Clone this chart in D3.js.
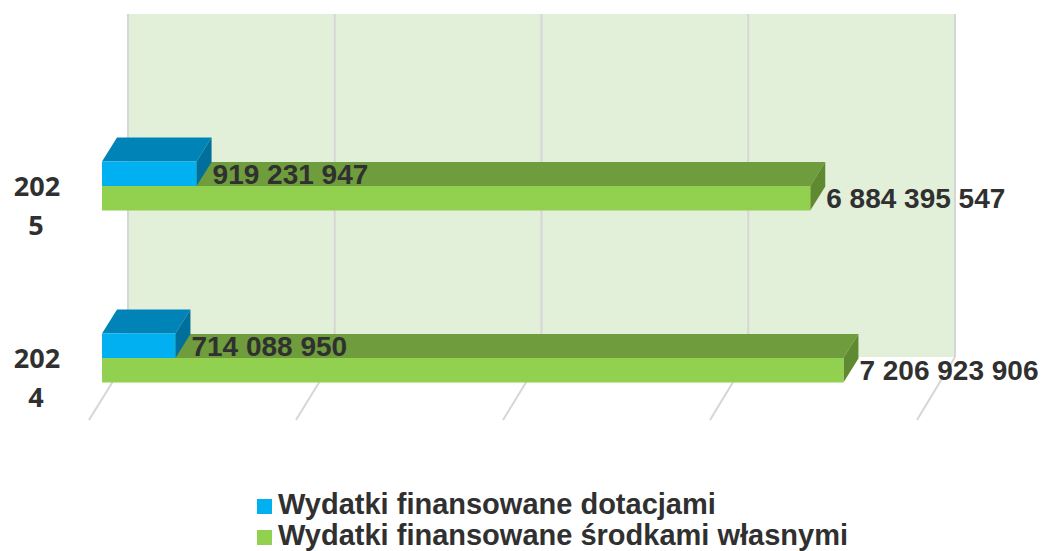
<!DOCTYPE html>
<html>
<head>
<meta charset="UTF-8">
<title>Wydatki 2024-2025</title>
<script src="https://d3js.org/d3.v7.min.js"></script>
<style>
  body { margin: 0; background: #fff; }
  svg { display: block; }
  text { fill: #303030; font-weight: bold; }
</style>
</head>
<body>
<svg></svg>
<script>
// data
const categories = ["2025", "2024"];
const seriesKeys = ["dotacje", "wlasne"];
const seriesNames = ["Wydatki finansowane dotacjami", "Wydatki finansowane środkami własnymi"];
const dotacje = [919231947, 714088950];
const wlasne = [6884395547, 7206923906];
const ticks = [0, 2e9, 4e9, 6e9, 8e9];

const W = 1041, H = 551;
const svg = d3.select("svg").attr("width", W).attr("height", H);

const colors = {
  dotacje: { front: "#00b0f0", top: "#0084b8", side: "#006f9c" },
  wlasne: { front: "#92d050", top: "#6f9c3c", side: "#5f8a32" }
};

// depth of the bars (3d offset)
const dx = 15, dy = -24;

// scales: front plane of bars, back wall, floor front edge
const x = d3.scaleLinear().domain([0, 8e9]).range([102, 925]);
const xWall = d3.scaleLinear().domain([0, 8e9]).range([128, 955]);
const xFloor = d3.scaleLinear().domain([0, 8e9]).range([89, 917]);
const wallTop = 14, wallBottom = 357, floorFront = 420;

const y = d3.scaleBand().domain(categories).range([100, 444]);
const ySub = d3.scaleBand().domain(seriesKeys).range([-24.5, 24.5]);

const fmt = d3.formatLocale({ thousands: " ", grouping: [3], decimal: ",", currency: ["", " zł"] }).format(",d");

// back wall
svg.append("rect")
  .attr("x", xWall(0)).attr("y", wallTop)
  .attr("width", xWall(8e9) - xWall(0)).attr("height", wallBottom - wallTop)
  .attr("fill", "#e2efd9");

// gridlines on wall
svg.append("g").selectAll("line").data(ticks).join("line")
  .attr("x1", d => xWall(d)).attr("x2", d => xWall(d))
  .attr("y1", wallTop).attr("y2", wallBottom)
  .attr("stroke", "#d6d6d6").attr("stroke-width", 2);

// floor lines
svg.append("g").selectAll("line").data(ticks).join("line")
  .attr("x1", d => xWall(d)).attr("y1", wallBottom)
  .attr("x2", d => xFloor(d)).attr("y2", floorFront)
  .attr("stroke", "#d6d6d6").attr("stroke-width", 2);

// rows: build table from the arrays
const rows = categories.map((c, i) => ({ cat: c, dotacje: dotacje[i], wlasne: wlasne[i] }));

function faces(x0, x1, y0, y1) {
  const front = [[x0, y0], [x1, y0], [x1, y1], [x0, y1]];
  const top = [[x0, y0], [x1, y0], [x1 + dx, y0 + dy], [x0 + dx, y0 + dy]];
  const side = [[x1, y0], [x1 + dx, y0 + dy], [x1 + dx, y1 + dy], [x1, y1]];
  return { front, top, side };
}
const poly = pts => "M" + pts.map(p => p.join(",")).join("L") + "Z";

const bars = svg.append("g");
// draw green first, blue on top of it
rows.forEach(r => {
  const cy = y(r.cat) + y.bandwidth() / 2;
  ["wlasne", "dotacje"].forEach(k => {
    const y0 = cy + ySub(k), y1 = y0 + ySub.bandwidth();
    const f = faces(x(0), x(r[k]), y0, y1);
    const g = bars.append("g");
    g.append("path").attr("d", poly(f.top)).attr("fill", colors[k].top);
    g.append("path").attr("d", poly(f.side)).attr("fill", colors[k].side);
    g.append("path").attr("d", poly(f.front)).attr("fill", colors[k].front);
  });
});

// data labels
const labels = svg.append("g")
  .style("font-family", "'Liberation Sans', Arial, sans-serif")
  .style("font-size", "28px");
rows.forEach(r => {
  const cy = y(r.cat) + y.bandwidth() / 2;
  seriesKeys.forEach(k => {
    const yc = cy + ySub(k) + ySub.bandwidth() / 2;
    labels.append("text")
      .attr("x", x(r[k]) + dx + 1)
      .attr("y", yc + 10)
      .text(fmt(r[k]));
  });
});

// category labels (wrapped like the original)
const catG = svg.append("g")
  .style("font-family", "'Open Sans', sans-serif")
  .style("font-size", "27px")
  .attr("text-anchor", "middle");
categories.forEach(c => {
  const cy = y(c) + y.bandwidth() / 2;
  catG.append("text").attr("x", 37).attr("y", cy + 10).text(c.slice(0, 3));
  catG.append("text").attr("x", 36).attr("y", cy + 49).text(c.slice(3));
});

// legend
const legend = svg.append("g")
  .style("font-family", "'Liberation Sans', Arial, sans-serif")
  .style("font-size", "29px");
seriesKeys.forEach((k, i) => {
  const ly = 499 + i * 31;
  legend.append("rect").attr("x", 257).attr("y", ly).attr("width", 15).attr("height", 15)
    .attr("fill", colors[k].front);
  legend.append("text").attr("x", 278).attr("y", ly + 15).text(seriesNames[i]);
});
</script>
</body>
</html>
